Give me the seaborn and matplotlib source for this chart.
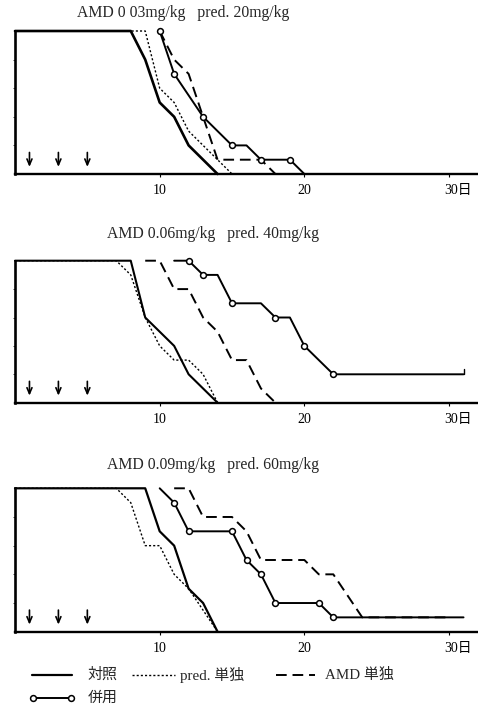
import matplotlib
matplotlib.use("Agg")
import matplotlib.pyplot as plt
from matplotlib.lines import Line2D
import matplotlib.transforms as mtransforms
import seaborn as sns

# Survival (%) by day for each treatment group, three dose levels
titles = ["AMD 0 03mg/kg   pred. 20mg/kg",
          "AMD 0.06mg/kg   pred. 40mg/kg",
          "AMD 0.09mg/kg   pred. 60mg/kg"]

ctrl1_days = [0, 8, 9, 10, 11, 12, 14]
ctrl1_vals = [100, 100, 80, 50, 40, 20, 0]
pred1_days = [0, 9, 10, 11, 12, 14, 15]
pred1_vals = [100, 100, 60, 50, 30, 10, 0]
amd1_days = [10, 11, 12, 14, 17, 18]
amd1_vals = [100, 80, 70, 10, 10, 0]
comb1_days = [10, 11, 13, 15, 16, 17, 19, 20]
comb1_vals = [100, 70, 40, 20, 20, 10, 10, 0]
comb1_marks = [0, 1, 2, 3, 5, 6]

ctrl2_days = [0, 8, 9, 11, 12, 14]
ctrl2_vals = [100, 100, 60, 40, 20, 0]
pred2_days = [0, 7, 8, 9, 10, 11, 12, 13, 14]
pred2_vals = [100, 100, 90, 60, 40, 30, 30, 20, 0]
amd2_days = [9, 10, 11, 12, 13, 14, 15, 16, 17, 18]
amd2_vals = [100, 100, 80, 80, 60, 50, 30, 30, 10, 0]
comb2_days = [11, 12, 13, 14, 15, 17, 18, 19, 20, 21, 22, 31]
comb2_vals = [100, 100, 90, 90, 70, 70, 60, 60, 40, 30, 20, 20]
comb2_marks = [1, 2, 4, 6, 8, 10]

ctrl3_days = [0, 9, 10, 11, 12, 13, 14]
ctrl3_vals = [100, 100, 70, 60, 30, 20, 0]
pred3_days = [0, 7, 8, 9, 10, 11, 12, 14]
pred3_vals = [100, 100, 90, 60, 60, 40, 30, 0]
amd3_days = [11, 12, 13, 15, 16, 17, 20, 21, 22, 24, 30]
amd3_vals = [100, 100, 80, 80, 70, 50, 50, 40, 40, 10, 10]
comb3_days = [10, 11, 12, 15, 16, 17, 18, 21, 22, 31]
comb3_vals = [100, 90, 70, 70, 50, 40, 20, 20, 10, 10]
comb3_marks = [1, 2, 3, 4, 5, 6, 7, 8]

dose_days = [1, 3, 5]
tick_days = [10, 20, 30]
tick_labels = ["10", "20", "30日"]
legend_labels = ["対照", "pred. 単独", "AMD 単独", "併用"]

sns.set_theme(style="white")
FAM = ["Liberation Serif", "Noto Sans CJK JP"]
plt.rcParams["font.family"] = FAM

W, H = 478, 707
fig = plt.figure(figsize=(W / 100, H / 100), dpi=100)

DOT = (0, (1.5, 1.5))
DASH = (0, (5.5, 3))

panels = [
    (ctrl1_days, ctrl1_vals, pred1_days, pred1_vals, amd1_days, amd1_vals,
     comb1_days, comb1_vals, comb1_marks, 1.9),
    (ctrl2_days, ctrl2_vals, pred2_days, pred2_vals, amd2_days, amd2_vals,
     comb2_days, comb2_vals, comb2_marks, 1.5),
    (ctrl3_days, ctrl3_vals, pred3_days, pred3_vals, amd3_days, amd3_vals,
     comb3_days, comb3_vals, comb3_marks, 1.6),
]
# (top px, bottom px) of each plotting area
frames = [(31, 174), (260.7, 402.7), (488.3, 631.7)]
title_pos = [(77, 13), (107, 234), (107, 465)]

ax_left, ax_right = 15, 478
for i, (p, (top, bot)) in enumerate(zip(panels, frames)):
    (cd, cv, pd_, pv, ad, av, bd, bv, bm, clw) = p
    ax = fig.add_axes([ax_left / W, 1 - bot / H, (ax_right - ax_left) / W, (bot - top) / H])
    ax.set_xlim(0, 32)
    ax.set_ylim(0, 100)

    common = dict(color="black", estimator=None, sort=False, ax=ax, clip_on=False)
    sns.lineplot(x=pd_, y=pv, linewidth=1.0, linestyle=DOT, **common)
    sns.lineplot(x=ad, y=av, linewidth=1.4, linestyle=DASH, **common)
    sns.lineplot(x=cd, y=cv, linewidth=clw, linestyle="-", **common)
    sns.lineplot(x=bd, y=bv, linewidth=1.4, linestyle="-", marker="o", markevery=bm,
                 markersize=4.2, markerfacecolor="white", markeredgecolor="black",
                 markeredgewidth=1.1, **common)
    if i == 1:
        ax.plot([31, 31], [bv[-1], bv[-1] + 4], color="black", lw=1.0, clip_on=False)

    for d in dose_days:
        ax.annotate("", xy=(d, 3), xytext=(d, 17),
                    arrowprops=dict(arrowstyle="->,head_length=0.35,head_width=0.15",
                                    color="black", lw=1.2))

    sns.despine(ax=ax, top=True, right=True)
    ax.spines["left"].set_linewidth(1.9)
    ax.spines["bottom"].set_linewidth(1.7)
    ax.spines["left"].set_color("black")
    ax.spines["bottom"].set_color("black")
    ax.set_xticks(tick_days)
    ax.set_xticklabels(tick_labels, fontsize=10, family=FAM)
    ax.tick_params(axis="x", direction="out", length=2.5, width=0.8, pad=5,
                   bottom=True, colors="black")
    last = ax.get_xticklabels()[-1]
    last.set_transform(last.get_transform() +
                       mtransforms.ScaledTranslation(9 / 100, 0, fig.dpi_scale_trans))
    ax.set_yticks([20, 40, 60, 80])
    ax.set_yticklabels([])
    ax.tick_params(axis="y", direction="out", length=1.5, width=0.6, left=True)
    ax.set_xlabel("")
    ax.set_ylabel("")
    ax.grid(False)
    ax.set_facecolor("white")

    tx, ty = title_pos[i]
    fig.text(tx / W, 1 - ty / H, titles[i], fontsize=11.3, ha="left", va="center",
             family=FAM)

# Legend drawn along the foot of the figure
def fx(px):
    return px / W

def fy(py):
    return 1 - py / H

row1, row2 = 675, 698
styles = [
    dict(ls="-", lw=1.6, x0=32, x1=72, tx=87),
    dict(ls=DOT, lw=1.0, x0=132, x1=175, tx=180),
    dict(ls=DASH, lw=1.4, x0=276, x1=315, tx=325),
]
for st, lab in zip(styles, legend_labels[:3]):
    fig.add_artist(Line2D([fx(st["x0"]), fx(st["x1"])], [fy(row1), fy(row1)],
                          color="black", lw=st["lw"], linestyle=st["ls"]))
    fig.text(fx(st["tx"]), fy(row1), lab, fontsize=10.8, ha="left", va="center",
             family=FAM)
fig.add_artist(Line2D([fx(33), fx(71)], [fy(row2), fy(row2)], color="black", lw=1.4,
                      marker="o", markersize=4.2, markerfacecolor="white",
                      markeredgecolor="black", markeredgewidth=1.1))
fig.text(fx(88), fy(row2), legend_labels[3], fontsize=10.8, ha="left", va="center",
         family=FAM)

fig.savefig("out.png", dpi=100, facecolor="white")
